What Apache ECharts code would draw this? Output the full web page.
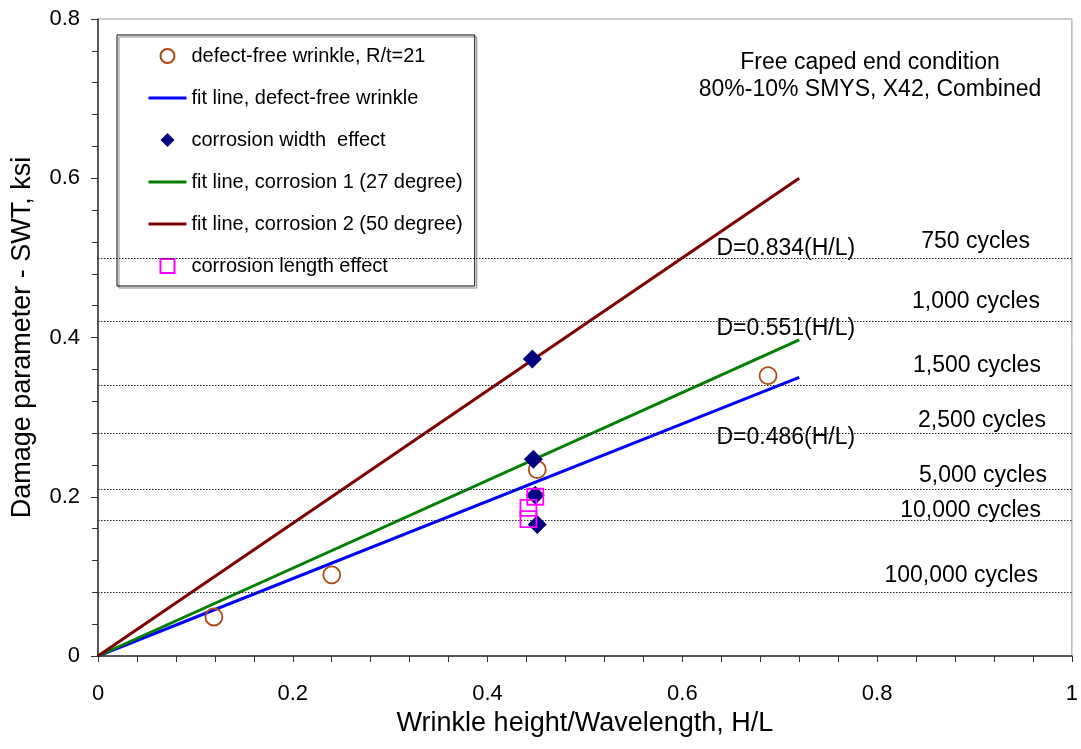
<!DOCTYPE html>
<html>
<head>
<meta charset="utf-8">
<script src="https://cdn.jsdelivr.net/npm/echarts@6/dist/echarts.min.js"></script>
<style>
html,body{margin:0;padding:0;background:#fff;}
#chart{width:1081px;height:749px;}
</style>
</head>
<body>
<div id="chart"></div>
<script>
// ---- data ----
const defectFree = [[0.119, 0.049], [0.240, 0.102], [0.451, 0.234], [0.688, 0.352]];
const corrosionWidth = [[0.446, 0.373], [0.447, 0.247], [0.449, 0.202], [0.451, 0.165]];
const corrosionLength = [[0.449, 0.200], [0.442, 0.186], [0.442, 0.172]];
const fitDefectFree = [[0, 0], [0.72, 0.350]];
const fitCorrosion1 = [[0, 0], [0.72, 0.397]];
const fitCorrosion2 = [[0, 0], [0.72, 0.600]];
const cycleLevels = [0.498, 0.425, 0.3375, 0.278, 0.213, 0.169, 0.0805];
const cycleLabels = ['750 cycles', '1,000 cycles', '1,500 cycles', '2,500 cycles', '5,000 cycles', '10,000 cycles', '100,000 cycles'];
const eqLabels = ['D=0.834(H/L)', 'D=0.551(H/L)', 'D=0.486(H/L)'];
const eqAnchors = [[0.635, 0.512], [0.635, 0.411], [0.635, 0.274]];
const seriesNames = ['defect-free wrinkle, R/t=21', 'fit line, defect-free wrinkle', 'corrosion width  effect',
  'fit line, corrosion 1 (27 degree)', 'fit line, corrosion 2 (50 degree)', 'corrosion length effect'];
const xTitle = 'Wrinkle height/Wavelength, H/L';
const yTitle = 'Damage parameter - SWT, ksi';
const noteLines = ['Free caped end condition', '80%-10% SMYS, X42, Combined'];

// label layout offsets (horizontal from right end, vertical above line)
const cycleLabelOffsets = [[42, 5], [32, 8], [31, 8], [26, 1], [25, 2], [31, -2], [34, 5]];

const FONT = 'Liberation Sans, Arial, sans-serif';
const axisColor = '#333';

const chart = echarts.init(document.getElementById('chart'), null, {renderer: 'canvas'});

const lineLegend = (name) => ({name: name, itemStyle: {opacity: 0}, lineStyle: {width: 3}});

const option = {
  animation: false,
  backgroundColor: '#fff',
  textStyle: {fontFamily: FONT, color: '#000'},
  grid: {left: 98, right: 5, top: 19, bottom: 93, show: true, borderColor: '#999', borderWidth: 1},
  xAxis: {
    type: 'value', min: 0, max: 1, interval: 0.2,
    name: xTitle, nameLocation: 'middle', nameGap: 50,
    nameTextStyle: {fontSize: 27, color: '#000', fontFamily: FONT},
    axisLine: {show: true, onZero: false, lineStyle: {color: axisColor, width: 1.5}},
    axisTick: {show: true, length: 6, lineStyle: {color: axisColor}},
    minorTick: {show: true, splitNumber: 5, length: 6, lineStyle: {color: axisColor}},
    axisLabel: {fontSize: 22, color: '#000', margin: 27, fontFamily: FONT},
    splitLine: {show: false}
  },
  yAxis: {
    type: 'value', min: 0, max: 0.8, interval: 0.2,
    name: yTitle, nameLocation: 'middle', nameGap: 62, nameRotate: 90,
    nameTextStyle: {fontSize: 27, color: '#000', fontFamily: FONT},
    axisLine: {show: true, onZero: false, lineStyle: {color: axisColor, width: 1.5}},
    axisTick: {show: true, length: 7, lineStyle: {color: axisColor}},
    minorTick: {show: true, splitNumber: 5, length: 6, lineStyle: {color: axisColor}},
    axisLabel: {fontSize: 22, color: '#000', margin: 18, fontFamily: FONT},
    splitLine: {show: false}
  },
  legend: {
    orient: 'vertical', left: 117, top: 35,
    padding: [11, 12, 10, 30],
    itemWidth: 38, itemHeight: 14, itemGap: 22,
    borderColor: '#000', borderWidth: 1,
    shadowColor: '#888', shadowOffsetX: 2, shadowOffsetY: 2, shadowBlur: 0,
    backgroundColor: 'rgba(255,255,255,0)',
    symbolKeepAspect: true,
    textStyle: {fontSize: 20, color: '#000', fontFamily: FONT},
    data: [
      {name: seriesNames[0], icon: 'circle'},
      lineLegend(seriesNames[1]),
      {name: seriesNames[2], icon: 'path://M7,0 L14,7 L7,14 L0,7 Z'},
      lineLegend(seriesNames[3]),
      lineLegend(seriesNames[4]),
      {name: seriesNames[5], icon: 'path://M0,0 L13,0 L13,13 L0,13 Z'}
    ]
  },
  graphic: [{
    type: 'text', x: 870, y: 49, z: 10,
    style: {text: noteLines.join('\n'), fontSize: 23, fontFamily: FONT, fill: '#000',
      align: 'center', verticalAlign: 'top', lineHeight: 27}
  }],
  series: [
    {
      name: 'levels', type: 'line', data: [], silent: true, z: 1,
      markLine: {
        silent: true, symbol: 'none', animation: false,
        lineStyle: {type: [1.5, 1.5], color: '#222', width: 1},
        label: {show: true, position: 'insideEndTop',
          fontSize: 23, color: '#000', fontFamily: FONT,
          formatter: p => p.name},
        data: cycleLevels.map((v, i) => ({yAxis: v, name: cycleLabels[i],
          label: {distance: cycleLabelOffsets[i]}}))
      }
    },
    {
      name: 'equations', type: 'scatter', data: eqAnchors, symbolSize: 0, silent: true,
      itemStyle: {opacity: 1},
      label: {show: true, position: 'right', distance: 0, fontSize: 23, color: '#000', fontFamily: FONT,
        formatter: p => eqLabels[p.dataIndex]}
    },
    {
      name: seriesNames[1], type: 'line', data: fitDefectFree, symbol: 'none', z: 3,
      lineStyle: {color: '#0000FF', width: 3}, itemStyle: {color: '#0000FF'}
    },
    {
      name: seriesNames[3], type: 'line', data: fitCorrosion1, symbol: 'none', z: 3,
      lineStyle: {color: '#008000', width: 3}, itemStyle: {color: '#008000'}
    },
    {
      name: seriesNames[4], type: 'line', data: fitCorrosion2, symbol: 'none', z: 3,
      lineStyle: {color: '#800000', width: 3}, itemStyle: {color: '#800000'}
    },
    {
      name: seriesNames[0], type: 'scatter', data: defectFree, symbol: 'circle', symbolSize: 17, z: 4,
      itemStyle: {color: 'rgba(255,255,255,0)', borderColor: '#B0470F', borderWidth: 1.8, opacity: 1}
    },
    {
      name: seriesNames[2], type: 'scatter', data: corrosionWidth, symbol: 'diamond', symbolSize: 19, z: 5,
      itemStyle: {color: '#000080', opacity: 1}
    },
    {
      name: seriesNames[5], type: 'scatter', data: corrosionLength, symbol: 'rect', symbolSize: 16, z: 6,
      itemStyle: {color: 'rgba(255,255,255,0)', borderColor: '#FF00FF', borderWidth: 1.8, opacity: 1}
    }
  ]
};
chart.setOption(option);
</script>
</body>
</html>
